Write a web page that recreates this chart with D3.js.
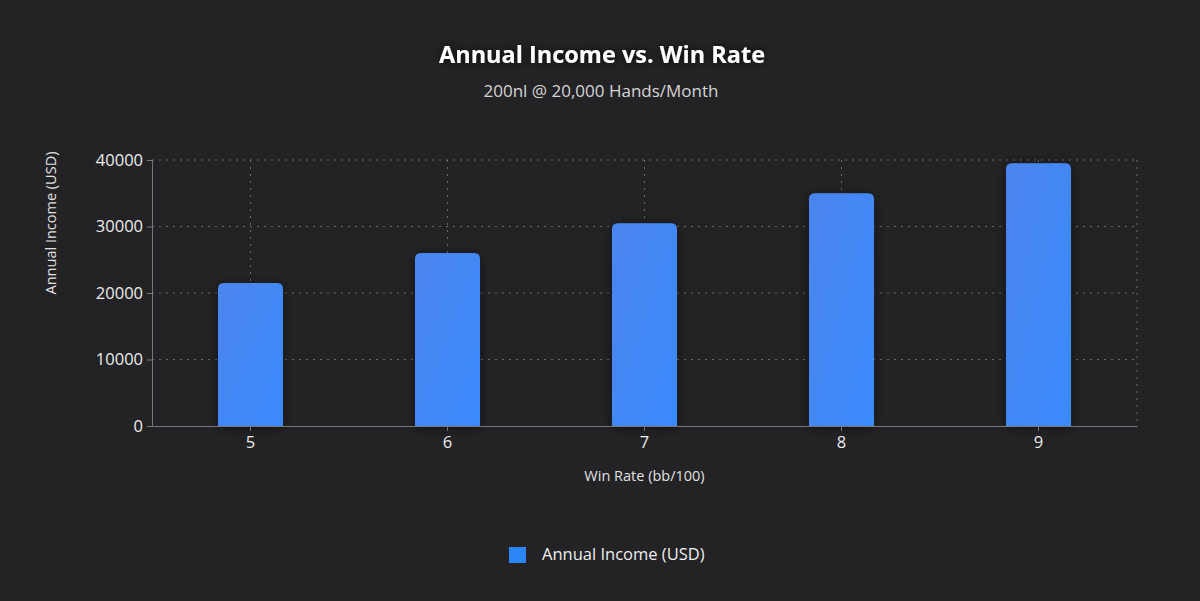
<!DOCTYPE html>
<html>
<head>
<meta charset="utf-8">
<script src="https://cdnjs.cloudflare.com/ajax/libs/d3/7.8.5/d3.min.js"></script>
<style>
  html, body { margin: 0; padding: 0; background: #232326; }
  svg { display: block; }
</style>
</head>
<body>
<div id="chart"></div>
<script>
// chart data
const winRates = ['5', '6', '7', '8', '9'];
const incomeValues = [21500, 26000, 30500, 35000, 39500];
const yTicks = [0, 10000, 20000, 30000, 40000];
const seriesName = 'Annual Income (USD)';

const width = 1200, height = 601;
const margin = { top: 160, right: 63, bottom: 175, left: 152 };
const innerW = width - margin.left - margin.right;
const innerH = height - margin.top - margin.bottom;
const font = '"Open Sans", "Noto Sans", sans-serif';

const svg = d3.select('#chart').append('svg')
  .attr('width', width)
  .attr('height', height);

svg.append('rect').attr('width', width).attr('height', height).attr('fill', '#232326');

const defs = svg.append('defs');
const grad = defs.append('linearGradient')
  .attr('id', 'barGrad')
  .attr('x1', '0').attr('y1', '0').attr('x2', '1').attr('y2', '1');
grad.append('stop').attr('offset', '0%').attr('stop-color', '#4b85ee');
grad.append('stop').attr('offset', '100%').attr('stop-color', '#3a8afc');

const shadow = defs.append('filter').attr('id', 'barShadow')
  .attr('x', '-40%').attr('y', '-20%').attr('width', '180%').attr('height', '140%');
shadow.append('feDropShadow')
  .attr('dx', 0).attr('dy', 2).attr('stdDeviation', 6)
  .attr('flood-color', '#000').attr('flood-opacity', 0.55);

const glow = defs.append('filter').attr('id', 'textGlow')
  .attr('x', '-20%').attr('y', '-50%').attr('width', '140%').attr('height', '200%');
glow.append('feDropShadow')
  .attr('dx', 0).attr('dy', 0).attr('stdDeviation', 4)
  .attr('flood-color', '#000').attr('flood-opacity', 0.8);

const g = svg.append('g').attr('transform', `translate(${margin.left},${margin.top})`);

const x = d3.scaleBand().domain(winRates).range([0, innerW]).paddingInner(0.67).paddingOuter(0.335);
const y = d3.scaleLinear().domain([0, 40000]).range([innerH, 0]);

// grid lines
const gridColor = '#6a6a6e';
g.append('g').selectAll('line.hgrid')
  .data(yTicks.filter(d => d > 0))
  .join('line')
  .attr('x1', 0).attr('x2', innerW)
  .attr('y1', d => y(d)).attr('y2', d => y(d))
  .attr('stroke', gridColor).attr('stroke-width', 1)
  .attr('stroke-dasharray', '2,5');

g.append('g').selectAll('line.vgrid')
  .data(winRates)
  .join('line')
  .attr('x1', d => x(d) + x.bandwidth() / 2).attr('x2', d => x(d) + x.bandwidth() / 2)
  .attr('y1', 0).attr('y2', innerH)
  .attr('stroke', gridColor).attr('stroke-width', 1)
  .attr('stroke-dasharray', '2,5');

g.append('line')
  .attr('x1', innerW).attr('x2', innerW).attr('y1', 0).attr('y2', innerH)
  .attr('stroke', gridColor).attr('stroke-dasharray', '2,5');

// bars
const r = 6;
g.append('g').selectAll('path.bar')
  .data(incomeValues)
  .join('path')
  .attr('d', (d, i) => {
    const x0 = x(winRates[i]), w = x.bandwidth();
    const y0 = y(d), y1 = y(0);
    return `M${x0},${y1} L${x0},${y0 + r} Q${x0},${y0} ${x0 + r},${y0} L${x0 + w - r},${y0} Q${x0 + w},${y0} ${x0 + w},${y0 + r} L${x0 + w},${y1} Z`;
  })
  .attr('fill', 'url(#barGrad)')
  .attr('filter', 'url(#barShadow)');

// axes
const yAxis = g.append('g')
  .call(d3.axisLeft(y).tickValues(yTicks).tickSize(5).tickPadding(4).tickFormat(d3.format('d')));
yAxis.select('.domain').attr('stroke', '#77777b');
yAxis.selectAll('.tick line').attr('stroke', '#77777b');
yAxis.selectAll('.tick text').attr('fill', '#ececec').attr('font-size', 16.5).attr('font-family', font);

const xAxis = g.append('g').attr('transform', `translate(0,${innerH})`)
  .call(d3.axisBottom(x).tickSize(5).tickPadding(5).tickSizeOuter(0));
xAxis.select('.domain').attr('stroke', '#77777b');
xAxis.selectAll('.tick line').attr('stroke', '#77777b');
xAxis.selectAll('.tick text').attr('fill', '#ececec').attr('font-size', 16.5).attr('font-family', font);

// axis titles
svg.append('text')
  .attr('transform', 'translate(56,223) rotate(-90)')
  .attr('text-anchor', 'middle')
  .attr('fill', '#e0e0e0')
  .attr('font-size', 14.5)
  .attr('font-family', font)
  .text('Annual Income (USD)');

svg.append('text')
  .attr('x', margin.left + innerW / 2)
  .attr('y', 481)
  .attr('text-anchor', 'middle')
  .attr('fill', '#e0e0e0')
  .attr('font-size', 14.5)
  .attr('font-family', font)
  .text('Win Rate (bb/100)');

// title and subtitle
svg.append('text')
  .attr('x', width / 2 + 2).attr('y', 63)
  .attr('text-anchor', 'middle')
  .attr('fill', '#ffffff')
  .attr('font-size', 23.5)
  .attr('font-weight', 'bold')
  .attr('font-family', font)
  .attr('filter', 'url(#textGlow)')
  .text('Annual Income vs. Win Rate');

svg.append('text')
  .attr('x', width / 2 + 1).attr('y', 97)
  .attr('text-anchor', 'middle')
  .attr('fill', '#d4d4d4')
  .attr('font-size', 17)
  .attr('font-family', font)
  .text('200nl @ 20,000 Hands/Month');

// legend
const legend = svg.append('g').attr('transform', 'translate(509,547)');
legend.append('rect').attr('width', 17).attr('height', 16).attr('fill', '#2b87f7');
legend.append('text')
  .attr('x', 33).attr('y', 13)
  .attr('fill', '#eeeeee')
  .attr('font-size', 16.5)
  .attr('font-family', font)
  .text(seriesName);
</script>
</body>
</html>
